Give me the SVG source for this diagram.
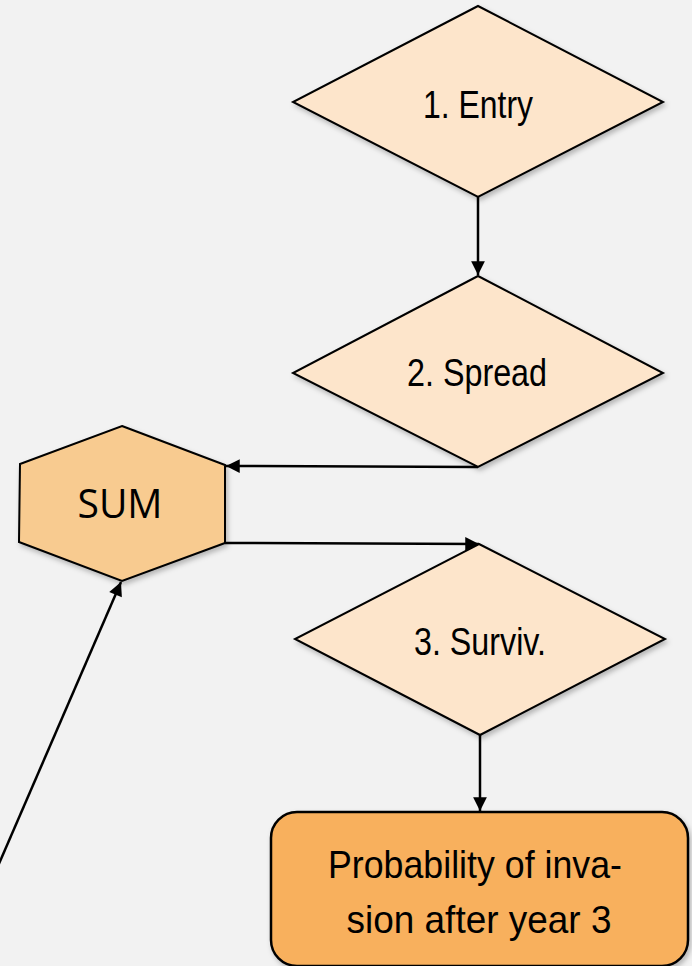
<svg xmlns="http://www.w3.org/2000/svg" width="692" height="966" viewBox="0 0 692 966">
  <defs>
    <filter id="sh" x="-10%" y="-10%" width="125%" height="125%">
      <feDropShadow dx="2" dy="3" stdDeviation="2.5" flood-color="#000" flood-opacity="0.25"/>
    </filter>
    <marker id="arr" viewBox="0 0 10 10" refX="10" refY="5" markerWidth="6" markerHeight="5.5" markerUnits="strokeWidth" orient="auto">
      <path d="M0,0 L10,5 L0,10 z" fill="#000"/>
    </marker>
  </defs>
  <style>
    .dia { fill: #FDE5CB; stroke: #000; stroke-width: 2; filter: url(#sh); }
    .hex { fill: #F8CB90; stroke: #000; stroke-width: 2; filter: url(#sh); }
    .box { fill: #F8B05D; stroke: #000; stroke-width: 2.5; filter: url(#sh); }
    .lbl { font-family: "Liberation Sans", Arial, sans-serif; font-size: 39px; fill: #000; text-anchor: middle; }
    .sum { font-family: "Open Sans", "Noto Sans", sans-serif; font-size: 40px; fill: #000; text-anchor: middle; }
    .con { stroke: #000; stroke-width: 2.5; fill: none; marker-end: url(#arr); }
  </style>
  <rect width="692" height="966" fill="#F2F2F2"/>

  <g id="connectors">
    <line class="con" x1="478" y1="197" x2="478" y2="275"/>
    <line class="con" x1="478" y1="467" x2="226" y2="466"/>
    <line class="con" x1="225" y1="543" x2="479" y2="544"/>
    <line class="con" x1="480" y1="735" x2="480" y2="811"/>
    <line class="con" x1="-2" y1="866" x2="121" y2="582"/>
  </g>

  <g id="entry">
    <polygon class="dia" points="478,6 663,102 478,197 293,102"/>
    <text class="lbl" x="478" y="118" textLength="110" lengthAdjust="spacingAndGlyphs">1. Entry</text>
  </g>

  <g id="spread">
    <polygon class="dia" points="478,276 663,373 478,467 293,373"/>
    <text class="lbl" x="477" y="386" textLength="140" lengthAdjust="spacingAndGlyphs">2. Spread</text>
  </g>

  <g id="sum">
    <polygon class="hex" points="122,426 225,465 225,543 122,581 19,542 20,464"/>
    <text class="sum" x="120" y="518" textLength="85" lengthAdjust="spacingAndGlyphs">SUM</text>
  </g>

  <g id="surviv">
    <polygon class="dia" points="479,544 665,639 480,735 295,639"/>
    <text class="lbl" x="480" y="655" textLength="132" lengthAdjust="spacingAndGlyphs">3. Surviv.</text>
  </g>

  <g id="result">
    <rect class="box" x="271" y="812" width="417" height="154" rx="26" ry="26"/>
    <text class="lbl" x="475" y="878" textLength="294" lengthAdjust="spacingAndGlyphs">Probability of inva-</text>
    <text class="lbl" x="479" y="933" textLength="265" lengthAdjust="spacingAndGlyphs">sion after year 3</text>
  </g>
</svg>
